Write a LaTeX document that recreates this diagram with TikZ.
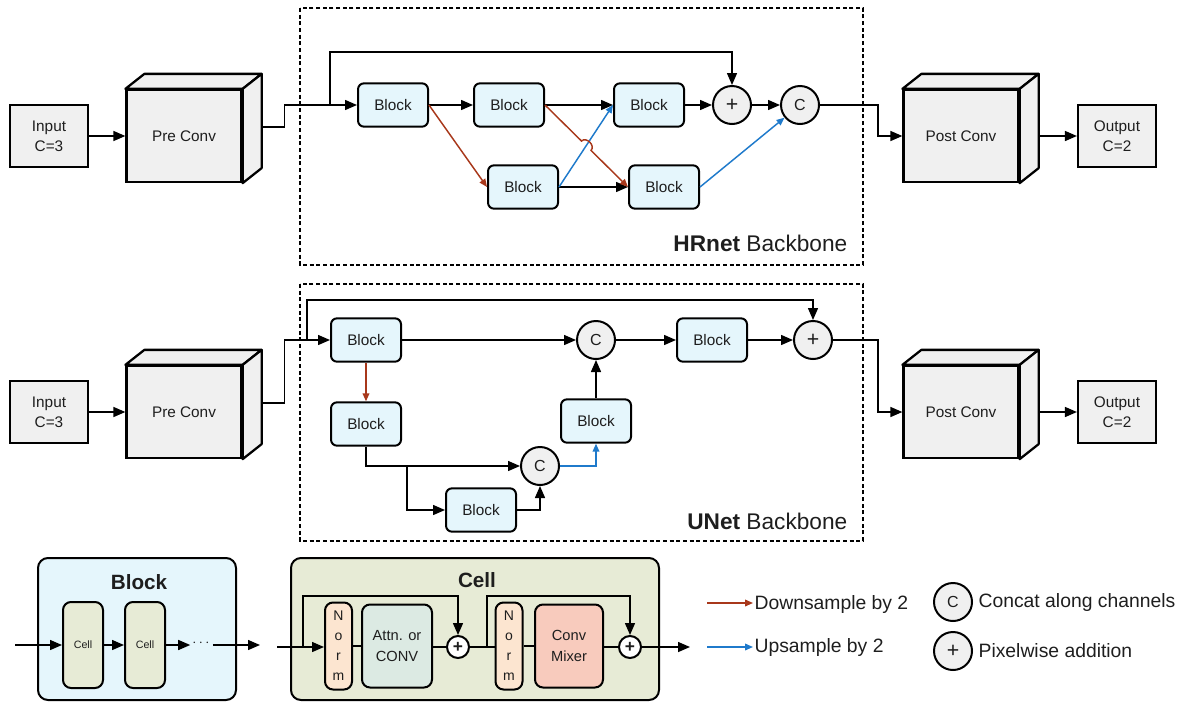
\documentclass[tikz,border=0pt]{standalone}
\usepackage{fontspec}
\setmainfont{Liberation Sans}
\usetikzlibrary{arrows.meta,calc}

\definecolor{blockfill}{HTML}{E5F6FC}
\definecolor{greyfill}{HTML}{F0F0F0}
\definecolor{cellfill}{HTML}{E7EBD6}
\definecolor{normfill}{HTML}{FCE5D0}
\definecolor{attnfill}{HTML}{DCEAE3}
\definecolor{mixfill}{HTML}{F8CBBD}
\definecolor{downred}{HTML}{A8381B}
\definecolor{upblue}{HTML}{1F7ACB}
\definecolor{ink}{HTML}{1E1E1E}

% top and side faces of a box drawn in perspective behind a front-face node
\newcommand\cubedepth[1]{%
  \draw[cubeline] (#1.north west) -- ++(19,-15) -- ($(#1.north east)+(19,-15)$) -- (#1.north east) -- cycle;
  \draw[cubeline] (#1.north east) -- ++(19,-15) -- ($(#1.south east)+(19,-15)$) -- (#1.south east) -- cycle;}

\begin{document}
\begin{tikzpicture}[x=0.75pt,y=-0.75pt,text=ink,
  iobox/.style={draw,line width=1.6pt,fill=greyfill,minimum width=58.5pt,minimum height=46.5pt,
    inner sep=0pt,align=center,font=\fontsize{11.5}{15}\selectfont},
  cubefront/.style={draw,line width=1.7pt,fill=greyfill,minimum width=86.25pt,minimum height=69pt,
    inner sep=0pt,font=\fontsize{11.5}{14}\selectfont},
  cubeline/.style={draw,line width=1.7pt,fill=greyfill,line join=round},
  blk/.style={draw,line width=1.5pt,fill=blockfill,rounded corners=4.5pt,minimum width=52.5pt,
    minimum height=32.5pt,inner sep=0pt,font=\fontsize{11.5}{14}\selectfont},
  op/.style={circle,draw,line width=1.5pt,fill=greyfill,minimum size=28.5pt,inner sep=0pt,
    font=\fontsize{12}{14}\selectfont},
  bigplus/.style={font=\fontsize{16}{16}\selectfont},
  addop/.style={circle,draw,line width=1.5pt,fill=white,minimum size=16.5pt,inner sep=0pt,
    font=\bfseries\fontsize{13}{13}\selectfont},
  wire/.style={line width=1.1pt},
  arr/.style={wire,-{Triangle[length=9pt,width=7.5pt]}},
  downarr/.style={line width=1.1pt,draw=downred,-{Triangle[length=6pt,width=5pt]}},
  uparr/.style={line width=1.1pt,draw=upblue,-{Triangle[length=6pt,width=5pt]}},
  backbone/.style={draw,dash pattern=on 3pt off 2pt,line width=1.2pt},
  panel/.style={draw,line width=1.5pt,rounded corners=7.5pt,minimum height=106.5pt,inner sep=0pt},
  minicell/.style={draw,line width=1.5pt,fill=cellfill,rounded corners=6pt,minimum width=30pt,
    minimum height=64.5pt,inner sep=0pt,font=\fontsize{8}{10}\selectfont},
  normbox/.style={draw,line width=1.5pt,fill=normfill,rounded corners=6pt,minimum width=20.25pt,
    minimum height=65.25pt,inner sep=0pt,align=center,font=\fontsize{10.5}{15}\selectfont},
  layerbox/.style={draw,line width=1.5pt,rounded corners=6pt,minimum height=62.25pt,inner sep=0pt,
    align=center,font=\fontsize{11}{16}\selectfont},
  keytext/.style={anchor=west,inner sep=1pt,font=\fontsize{14.5}{17}\selectfont},
  title/.style={font=\bfseries\fontsize{15.5}{18}\selectfont}]
\useasboundingbox (0,0) rectangle (1189,704);

% ---------------- HRnet backbone ----------------
\draw[backbone] (300,8) rectangle (863,265);
\node[anchor=east,font=\fontsize{17}{20}\selectfont] (hrlabel) at (852,243) {\textbf{HRnet} Backbone};

\node[iobox] (in1) at (49,136) {Input\\C=3};
\node[cubefront] (pre1) at (184,136) {};
\cubedepth{pre1}
\node[font=\fontsize{11.5}{14}\selectfont] at (pre1) {Pre Conv};

\node[blk] (B1) at (393,105) {Block};
\node[blk] (B2) at (509,105) {Block};
\node[blk] (B3) at (649,105) {Block};
\node[op,bigplus] (plus1) at (732,105) {+};
\node[op] (cat1) at (800,105) {C};
\node[blk] (B4) at (523,187) {Block};
\node[blk] (B5) at (664,187) {Block};

\node[cubefront] (post1) at (961,136) {};
\cubedepth{post1}
\node[font=\fontsize{11.5}{14}\selectfont] at (post1) {Post Conv};
\node[iobox] (out1) at (1117,136) {Output\\C=2};

\draw[arr] (in1) -- (pre1);
\coordinate (pre1out) at ($(pre1.east)+(19,-9)$);
\draw[arr] (pre1out) -- ++(23,0) |- (B1.west);
\coordinate (sk1) at ($(B1.west)+(-27,0)$);
\draw[arr] (sk1) -- ++(0,-53) -| (plus1.north);
\draw[arr] (B1) -- (B2);
\draw[arr] (B2) -- (B3);
\draw[arr] (B3) -- (plus1);
\draw[arr] (plus1) -- (cat1);
\draw[arr] (B4) -- (B5);
\draw[downarr] (B1.east) -- (B4.west);
\draw[uparr] (B4.east) -- (B3.west);
\coordinate (X) at (intersection of B2.east--B5.west and B4.east--B3.west);
\coordinate (h1) at ($(X)!5pt!(B2.east)$);
\coordinate (h2) at ($(X)!5pt!(B5.west)$);
\draw[downarr] (B2.east) -- (h1) .. controls ($(h1)!5pt!90:(h2)$) and ($(h2)!5pt!-90:(h1)$) .. (h2) -- (B5.west);
\draw[uparr] (B5.east) -- (cat1);
\draw[arr] (cat1.east) -- ++(58,0) |- (post1.west);
\draw[arr] ($(post1.east)+(19,0)$) -- (out1.west);

% ---------------- UNet backbone ----------------
\draw[backbone] (300,284) rectangle (863,541);
\node[anchor=east,font=\fontsize{17}{20}\selectfont] (unlabel) at (852,521) {\textbf{UNet} Backbone};

\node[iobox] (in2) at (49,412) {Input\\C=3};
\node[cubefront] (pre2) at (184,412) {};
\cubedepth{pre2}
\node[font=\fontsize{11.5}{14}\selectfont] at (pre2) {Pre Conv};

\node[blk] (U1) at (366,340) {Block};
\node[op] (C1) at (596,340) {C};
\node[blk] (U2) at (712,340) {Block};
\node[op,bigplus] (P2) at (813,340) {+};
\node[blk] (U3) at (366,424) {Block};
\node[op] (C2) at (540,466) {C};
\node[blk] (U4) at (481,510) {Block};
\node[blk] (U5) at (596,421) {Block};

\node[cubefront] (post2) at (961,412) {};
\cubedepth{post2}
\node[font=\fontsize{11.5}{14}\selectfont] at (post2) {Post Conv};
\node[iobox] (out2) at (1117,412) {Output\\C=2};

\draw[arr] (in2) -- (pre2);
\coordinate (pre2out) at ($(pre2.east)+(19,-9)$);
\draw[arr] (pre2out) -- ++(23,0) |- (U1.west);
\coordinate (sk2) at ($(U1.west)+(-23,0)$);
\draw[arr] (sk2) -- ++(0,-40) -| (P2.north);
\draw[arr] (U1) -- (C1);
\draw[arr] (C1) -- (U2);
\draw[arr] (U2) -- (P2);
\draw[downarr] (U1) -- (U3);
\draw[arr] (U3.south) |- (C2.west);
\coordinate (br) at ($(U3.south |- C2.west)+(41,0)$);
\draw[arr] (br) |- (U4.west);
\draw[arr] (U4.east) -| (C2.south);
\draw[uparr] (C2.east) -| (U5.south);
\draw[arr] (U5) -- (C1);
\draw[arr] (P2.east) -- ++(45,0) |- (post2.west);
\draw[arr] ($(post2.east)+(19,0)$) -- (out2.west);

% ---------------- Block detail ----------------
\node[panel,fill=blockfill,minimum width=148.5pt] (lblock) at (137,629) {};
\node[title] at (139,582) {Block};
\node[minicell] (cellA) at (83,645) {Cell};
\node[minicell] (cellB) at (145,645) {Cell};
\coordinate (bin) at (15,645);
\draw[arr] (bin) -- (cellA.west);
\draw[arr] (cellA) -- (cellB);
\node[inner sep=0pt,font=\fontsize{11}{12}\selectfont] (dots) at (201,643) {$\cdots$};
\draw[arr] (cellB.east) -- ($(dots.west)+(-2,2)$);
\coordinate (bout) at (260,645);
\draw[arr] ($(dots.east)+(3,2)$) -- (bout);

% ---------------- Cell detail ----------------
\node[panel,fill=cellfill,minimum width=276pt] (lcell) at (475,629) {};
\node[title] at (477,580) {Cell};
\node[normbox] (n1) at (338.5,646) {N\\o\\r\\m};
\node[layerbox,fill=attnfill,minimum width=52.5pt] (attn) at (397,646) {Attn. or\\CONV};
\node[addop] (a1) at (458,647) {+};
\node[normbox] (n2) at (509,646) {N\\o\\r\\m};
\node[layerbox,fill=mixfill,minimum width=51pt] (mix) at (569,646) {Conv\\Mixer};
\node[addop] (a2) at (630,647) {+};
\coordinate (cin) at (277,647);
\coordinate (cout) at (690,647);
\draw[arr] (cin) -- (n1.west |- a1);
\coordinate (cs1) at (303,647);
\draw[arr] (cs1) -- ++(0,-51) -| (a1.north);
\draw[wire] (n1) -- (attn);
\draw[wire] (attn.east |- a1) -- (a1.west);
\draw[wire] (a1.east) -- (n2.west |- a1);
\coordinate (cs2) at (487,647);
\draw[arr] (cs2) -- ++(0,-51) -| (a2.north);
\draw[wire] (n2) -- (mix);
\draw[wire] (mix.east |- a2) -- (a2.west);
\draw[arr] (a2.east) -- (cout);

% ---------------- Key ----------------
\node[keytext] (kdown) at (753,604) {Downsample by 2};
\node[keytext] (kup) at (753,647) {Upsample by 2};
\coordinate (kd0) at (707,603);
\coordinate (ku0) at (707,647);
\draw[downarr] (kd0) -- (kd0 -| kdown.west);
\draw[uparr] (ku0) -- (ku0 -| kup.west);
\node[op] (kc) at (953,602) {C};
\node[keytext] (kctext) at (977,602) {Concat along channels};
\node[op,bigplus] (kp) at (953,651) {+};
\node[keytext] (kptext) at (977,651) {Pixelwise addition};
\end{tikzpicture}
\end{document}
